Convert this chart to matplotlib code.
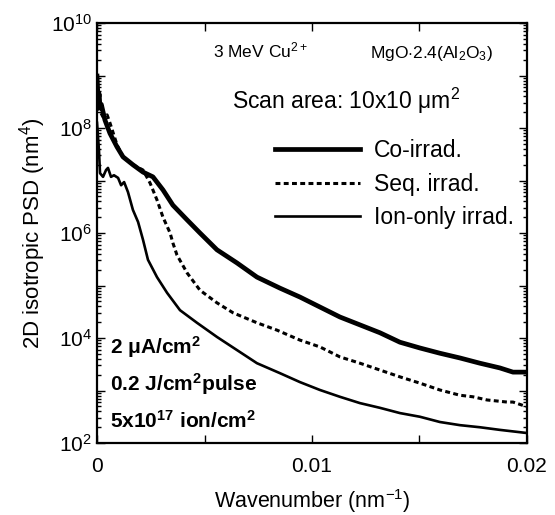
import numpy as np
import matplotlib
matplotlib.use("Agg")
import matplotlib.pyplot as plt
from matplotlib.ticker import LogLocator, FixedLocator, FuncFormatter, NullLocator

plt.rcParams['font.family'] = ['Liberation Sans', 'DejaVu Sans']
plt.rcParams['mathtext.fontset'] = 'custom'
plt.rcParams['mathtext.rm'] = 'Liberation Sans'
plt.rcParams['mathtext.it'] = 'Liberation Sans:italic'
plt.rcParams['mathtext.bf'] = 'Liberation Sans:bold'

# Wavenumber (nm^-1) and log10(PSD / nm^4)
x_co = [0.0, 0.00005, 0.0001, 0.00014, 0.0002, 0.00037, 0.0006, 0.00093, 0.00121, 0.00167,
        0.00214, 0.0026, 0.00307, 0.00353, 0.00419, 0.00479, 0.00558, 0.00651, 0.00744,
        0.00851, 0.00944, 0.01037, 0.0113, 0.01223, 0.01316, 0.01409, 0.01502, 0.01595,
        0.01688, 0.01781, 0.01874, 0.01935, 0.02]
log_co = [8.99, 8.55, 8.65, 8.38, 8.45, 8.15, 7.90, 7.64, 7.45, 7.30,
          7.16, 7.07, 6.82, 6.53, 6.25, 6.00, 5.68, 5.43, 5.16,
          4.95, 4.78, 4.59, 4.40, 4.25, 4.10, 3.92, 3.81, 3.71,
          3.62, 3.52, 3.43, 3.35, 3.35]

x_seq = [0.0, 0.00005, 0.0001, 0.00028, 0.00047, 0.0006, 0.00093, 0.00121, 0.00167, 0.00214,
         0.00247, 0.00279, 0.00307, 0.0034, 0.00353, 0.00372, 0.00419, 0.00479, 0.00558,
         0.00633, 0.00744, 0.00837, 0.00944, 0.01037, 0.0113, 0.01223, 0.01316, 0.01409,
         0.01502, 0.01595, 0.01688, 0.01749, 0.01814, 0.01907, 0.01935, 0.02]
log_seq = [8.90, 8.45, 8.35, 8.21, 8.25, 8.10, 7.68, 7.45, 7.30, 7.20,
           6.95, 6.63, 6.30, 6.00, 5.81, 5.58, 5.24, 4.91, 4.67,
           4.48, 4.29, 4.15, 3.96, 3.83, 3.64, 3.52, 3.39, 3.26,
           3.14, 3.01, 2.91, 2.88, 2.82, 2.78, 2.78, 2.69]

x_ion = [0.0, 0.00009, 0.00014, 0.00028, 0.00042, 0.00051, 0.00065, 0.00079, 0.00098,
         0.00112, 0.00126, 0.00144, 0.00167, 0.00191, 0.00214, 0.00237, 0.00279, 0.00326,
         0.00386, 0.00465, 0.00558, 0.00651, 0.00744, 0.00851, 0.00944, 0.01037, 0.0113,
         0.01223, 0.01316, 0.01409, 0.01502, 0.01595, 0.01688, 0.01781, 0.01874, 0.02]
log_ion = [8.10, 7.58, 7.14, 7.07, 7.20, 7.24, 7.07, 7.10, 7.05,
           6.91, 6.97, 6.78, 6.44, 6.21, 5.87, 5.49, 5.16, 4.86,
           4.53, 4.29, 4.02, 3.77, 3.52, 3.33, 3.16, 3.01, 2.88,
           2.76, 2.67, 2.57, 2.50, 2.40, 2.34, 2.30, 2.25, 2.19]

labels = ["Co-irrad.", "Seq. irrad.", "Ion-only irrad."]

fig = plt.figure(figsize=(5.55, 5.15), dpi=100)
ax = fig.add_axes([0.1748, 0.1398, 0.9495 - 0.1748, 0.9553 - 0.1398])

ax.plot(x_co, 10.0 ** np.array(log_co), color='black', lw=3.4, label=labels[0],
        solid_joinstyle='round')
ax.plot(x_seq, 10.0 ** np.array(log_seq), color='black', lw=2.2, ls=(0, (1.6, 1.1)),
        label=labels[1])
ax.plot(x_ion, 10.0 ** np.array(log_ion), color='black', lw=1.9, label=labels[2])

ax.set_yscale('log')
ax.set_xlim(0, 0.02)
ax.set_ylim(1e2, 1e10)

ax.xaxis.set_major_locator(FixedLocator([0, 0.005, 0.01, 0.015, 0.02]))
ax.xaxis.set_minor_locator(NullLocator())
ax.xaxis.set_major_formatter(FuncFormatter(
    lambda v, p: {0: "0", 2: "0.01", 4: "0.02"}.get(int(round(v / 0.005)), "")))

ax.yaxis.set_major_locator(LogLocator(base=10, numticks=20))
ax.yaxis.set_minor_locator(LogLocator(base=10, subs=np.arange(2, 10), numticks=20))

def yfmt(v, p):
    e = int(round(np.log10(v)))
    return r"$10^{%d}$" % e if e % 2 == 0 else ""
ax.yaxis.set_major_formatter(FuncFormatter(yfmt))

ax.tick_params(which='both', direction='in', top=True, right=True, labelsize=15,
               width=1.0)
ax.tick_params(which='major', length=6)
ax.tick_params(which='minor', length=3)
ax.tick_params(axis='x', pad=10)
for s in ax.spines.values():
    s.set_linewidth(1.6)

ax.set_xlabel(r"Wavenumber (nm$^{-1}$)", fontsize=15.5, labelpad=8)
ax.set_ylabel(r"2D isotropic PSD (nm$^{4}$)", fontsize=16, labelpad=2)

ax.text(0.27, 0.917, r"3 MeV Cu$^{2+}$", transform=ax.transAxes, fontsize=12.5)
ax.text(0.635, 0.917, r"MgO$\cdot$2.4(Al$_{2}$O$_{3}$)", transform=ax.transAxes,
        fontsize=12.5)
ax.text(0.314, 0.795, "Scan area: 10x10 μm$^{2}$", transform=ax.transAxes, fontsize=16.5)

leg = ax.legend(loc='upper right', bbox_to_anchor=(0.99, 0.745), frameon=False,
                fontsize=16.5, handlelength=3.7, handletextpad=0.6, labelspacing=0.45,
                borderaxespad=0)

ax.text(0.03, 0.212, "2 μA/cm$^{\\mathbf{2}}$", transform=ax.transAxes,
        fontsize=15, fontweight='bold')
ax.text(0.03, 0.124, "0.2 J/cm$^{\\mathbf{2}}$pulse", transform=ax.transAxes,
        fontsize=15, fontweight='bold')
ax.text(0.03, 0.036, "5x10$^{\\mathbf{17}}$ ion/cm$^{\\mathbf{2}}$", transform=ax.transAxes,
        fontsize=15, fontweight='bold')

fig.savefig("out.png", dpi=100)
